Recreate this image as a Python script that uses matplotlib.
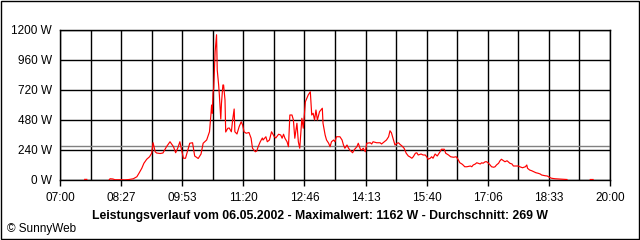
import numpy as np
import matplotlib
matplotlib.use("Agg")
import matplotlib.pyplot as plt
from matplotlib.patches import Rectangle

# readings of 06.05.2002 (None = no data)
times = ["07:35", "07:38", "07:39",
         "08:10", "08:11", "08:15", "08:18", "08:28", "08:32", "08:38", "08:44", "08:49",
         "08:52", "08:56", "08:59", "09:03", "09:07", "09:10", "09:12", "09:15", "09:17",
         "09:22", "09:26", "09:31", "09:36", "09:41", "09:44", "09:47", "09:50", "09:53",
         "09:55", "09:58", "10:00", "10:04", "10:08", "10:11", "10:16", "10:20", "10:23",
         "10:28", "10:30", "10:32", "10:34", "10:35", "10:36", "10:37", "10:38", "10:40",
         "10:42", "10:43", "10:45", "10:46", "10:48", "10:49", "10:51", "10:52", "10:54",
         "10:55", "10:58", "11:00", "11:03", "11:05", "11:07", "11:08", "11:11", "11:14",
         "11:17", "11:19", "11:21", "11:24", "11:28", "11:31", "11:33", "11:37", "11:39",
         "11:41", "11:44", "11:47", "11:48", "11:52", "11:54", "11:57", "12:00", "12:04",
         "12:06", "12:10", "12:13", "12:15", "12:17", "12:19", "12:22", "12:24", "12:26",
         "12:29", "12:31", "12:33", "12:36", "12:38", "12:40", "12:43", "12:45", "12:48",
         "12:50", "12:52", "12:55", "12:56", "12:57", "12:59", "13:01", "13:03", "13:05",
         "13:08", "13:10", "13:12", "13:13", "13:16", "13:18", "13:21", "13:23", "13:25",
         "13:28", "13:30", "13:32", "13:37", "13:40", "13:42", "13:44", "13:47", "13:49",
         "13:51", "13:55", "13:57", "14:01", "14:03", "14:06", "14:08", "14:10", "14:13",
         "14:15", "14:20", "14:22", "14:24", "14:29", "14:34", "14:36", "14:40", "14:43",
         "14:46", "14:48", "14:50", "14:53", "14:55", "14:58", "15:00", "15:02", "15:05",
         "15:08", "15:11", "15:14", "15:16", "15:19", "15:21", "15:24", "15:26", "15:28",
         "15:32", "15:35", "15:38", "15:40", "15:42", "15:45", "15:47", "15:49", "15:52",
         "15:55", "15:59", "16:01", "16:05", "16:07", "16:11", "16:14", "16:18", "16:22",
         "16:25", "16:27", "16:30", "16:32", "16:34", "16:37", "16:42", "16:44", "16:46",
         "16:49", "16:51", "16:53", "16:56", "16:58", "17:00", "17:03", "17:05", "17:07",
         "17:10", "17:12", "17:15", "17:17", "17:19", "17:22", "17:24", "17:26", "17:29",
         "17:31", "17:34", "17:36", "17:38", "17:41", "17:43", "17:45", "17:50", "17:52",
         "17:56", "18:00", "18:02", "18:03", "18:06", "18:09", "18:12", "18:15", "18:18",
         "18:21", "18:23", "18:28", "18:31", "18:34", "18:37", "18:42", "18:47", "18:54",
         "18:59", "19:00",
         "19:32", "19:36"]
watts = [5, 5, None,
         3, 10, 8, 2, 2, 1, 4, 10, 26,
         54, 94, 134, 166, 186, 214, 298, 226, 216,
         212, 216, 266, 306, 266, 218, 256, 306, 226,
         174, 174, 214, 294, 298, 192, 172, 208, 294,
         320, 352, 386, 520, 600, 534, 696, 736, 1026,
         1162, 880, 760, 680, 488, 614, 760, 760, 640,
         384, 414, 416, 386, 488, 568, 386, 368, 426,
         466, 440, 386, 374, 380, 334, 254, 226, 232,
         266, 306, 336, 320, 346, 306, 320, 386, 346,
         336, 366, 360, 334, 366, 334, 306, 266, 520,
         520, 480, 334, 454, 306, 254, 494, 414, 626,
         654, 680, 706, 614, 520, 534, 480, 560, 480,
         546, 560, 574, 454, 360, 320, 294, 266, 306,
         320, 306, 346, 346, 320, 280, 254, 280, 256,
         240, 218, 240, 266, 294, 246, 240, 254, 226,
         294, 298, 288, 306, 298, 298, 288, 306, 320,
         346, 394, 378, 320, 280, 294, 298, 286, 272,
         254, 214, 192, 186, 174, 186, 214, 218, 200,
         208, 200, 200, 186, 166, 174, 186, 174, 208,
         192, 226, 246, 246, 214, 200, 186, 182, 186,
         160, 138, 128, 118, 106, 106, 112, 106, 120,
         128, 138, 134, 128, 138, 134, 146, 146, 138,
         120, 106, 102, 106, 120, 134, 154, 166, 154,
         146, 154, 144, 134, 128, 112, 112, 112, 106,
         98, 106, 120, 94, 80, 74, 66, 58, 54,
         48, 40, 34, 32, 22, 14, 10, 8, 6,
         4, None,
         4, 4]

y_ticks = [0, 240, 480, 720, 960, 1200]
y_labels = ["0 W", "240 W", "480 W", "720 W", "960 W", "1200 W"]
x_labels = ["07:00", "08:27", "09:53", "11:20", "12:46", "14:13", "15:40", "17:06", "18:33", "20:00"]
average = 269
title = "Leistungsverlauf vom 06.05.2002 - Maximalwert: 1162 W - Durchschnitt: 269 W"

mins = np.array([int(t[:2]) * 60 + int(t[3:]) for t in times], dtype=float)
vals = np.array([np.nan if w is None else w for w in watts], dtype=float)

plt.rcParams['font.family'] = ['Liberation Sans', 'DejaVu Sans']

fig = plt.figure(figsize=(6.4, 2.4), dpi=100)
ax = fig.add_axes([60 / 640, 1 - 180 / 240, 550 / 640, 150 / 240])

start, end = 7 * 60, 20 * 60
ax.set_xlim(start, end)
ax.set_ylim(0, 1200)

major = np.linspace(start, end, len(x_labels))
minor = np.linspace(start, end, 2 * (len(x_labels) - 1) + 1)
ax.set_xticks(major)
ax.set_xticklabels(x_labels)
ax.set_xticks(minor, minor=True)
ax.set_yticks(y_ticks)
ax.set_yticklabels(y_labels)

ax.grid(True, which='both', axis='x', color='black', lw=1.0)
ax.grid(True, which='major', axis='y', color='black', lw=1.0)
ax.set_axisbelow(True)
ax.tick_params(axis='x', which='major', length=4, width=1.0, color='black',
               pad=4.5, labelsize=8.5)
ax.tick_params(axis='x', which='minor', length=0)
ax.tick_params(axis='y', length=0, pad=6, labelsize=8.5)
for s in ax.spines.values():
  s.set_color('black')
  s.set_linewidth(1.0)

ax.axhline(average, color='#808080', lw=1.0, zorder=1.5)
ax.plot(mins, vals, color='red', lw=0.85, zorder=3)

fig.text(0.5, 1 - 216 / 240, title, ha='center', va='center',
         fontsize=8.8, fontweight='bold')
fig.text(7 / 640, 1 - 229 / 240, "\u00a9 SunnyWeb", ha='left', va='center', fontsize=8.5)

fig.patches.append(Rectangle((0.5 / 640, 1.5 / 240), 638 / 640, 238 / 240,
                             transform=fig.transFigure, fill=False,
                             edgecolor='black', lw=1.0))

fig.savefig("out.png", dpi=100)
